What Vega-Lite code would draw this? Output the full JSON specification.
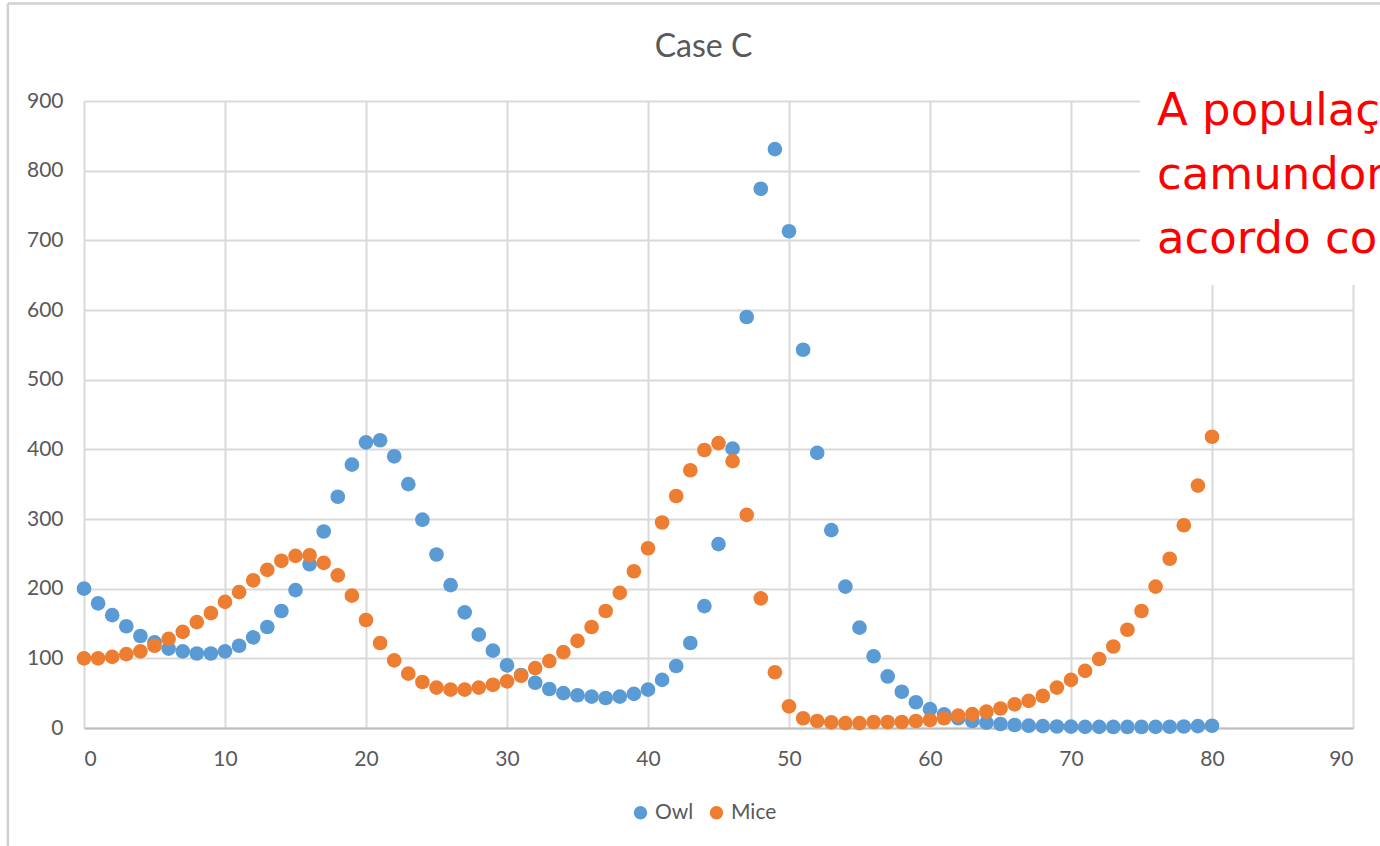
{
  "$schema": "https://vega.github.io/schema/vega-lite/v6.json",
  "width": 1269,
  "height": 627,
  "autosize": {"type": "none"},
  "padding": {"left": 84, "top": 101, "right": 27, "bottom": 118},
  "background": "white",
  "title": {"text": "Case C", "font": "Lato", "fontSize": 32, "fontWeight": "normal", "color": "#595959", "anchor": "middle", "dx": -15, "baseline": "alphabetic", "offset": -87},
  "config": {
    "view": {"stroke": null},
    "axis": {"labelFont": "Lato", "labelFontSize": 21, "labelColor": "#595959", "gridColor": "#d9d9d9", "gridWidth": 2, "ticks": false, "title": null},
    "legend": {"labelFont": "Lato", "labelFontSize": 21, "labelColor": "#595959"}
  },
  "datasets": {
    "pop": [
      {"t":0,"Owl":200,"Mice":100},{"t":1,"Owl":179,"Mice":100},{"t":2,"Owl":162,"Mice":102},{"t":3,"Owl":146,"Mice":106},{"t":4,"Owl":132,"Mice":110},
      {"t":5,"Owl":123,"Mice":118},{"t":6,"Owl":114,"Mice":128},{"t":7,"Owl":110,"Mice":138},{"t":8,"Owl":107,"Mice":152},{"t":9,"Owl":107,"Mice":165},
      {"t":10,"Owl":110,"Mice":181},{"t":11,"Owl":118,"Mice":195},{"t":12,"Owl":130,"Mice":212},{"t":13,"Owl":145,"Mice":227},{"t":14,"Owl":168,"Mice":240},
      {"t":15,"Owl":198,"Mice":247},{"t":16,"Owl":235,"Mice":248},{"t":17,"Owl":282,"Mice":237},{"t":18,"Owl":332,"Mice":219},{"t":19,"Owl":378,"Mice":190},
      {"t":20,"Owl":410,"Mice":155},{"t":21,"Owl":413,"Mice":122},{"t":22,"Owl":390,"Mice":97},{"t":23,"Owl":350,"Mice":78},{"t":24,"Owl":299,"Mice":66},
      {"t":25,"Owl":249,"Mice":58},{"t":26,"Owl":205,"Mice":55},{"t":27,"Owl":166,"Mice":55},{"t":28,"Owl":134,"Mice":58},{"t":29,"Owl":111,"Mice":62},
      {"t":30,"Owl":90,"Mice":67},{"t":31,"Owl":76,"Mice":75},{"t":32,"Owl":65,"Mice":86},{"t":33,"Owl":56,"Mice":96},{"t":34,"Owl":50,"Mice":109},
      {"t":35,"Owl":47,"Mice":125},{"t":36,"Owl":45,"Mice":145},{"t":37,"Owl":43,"Mice":168},{"t":38,"Owl":45,"Mice":194},{"t":39,"Owl":49,"Mice":225},
      {"t":40,"Owl":55,"Mice":258},{"t":41,"Owl":69,"Mice":295},{"t":42,"Owl":89,"Mice":333},{"t":43,"Owl":122,"Mice":370},{"t":44,"Owl":175,"Mice":399},
      {"t":45,"Owl":264,"Mice":409},{"t":46,"Owl":401,"Mice":383},{"t":47,"Owl":590,"Mice":306},{"t":48,"Owl":774,"Mice":186},{"t":49,"Owl":831,"Mice":80},
      {"t":50,"Owl":713,"Mice":31},{"t":51,"Owl":543,"Mice":14},{"t":52,"Owl":395,"Mice":10},{"t":53,"Owl":284,"Mice":8},{"t":54,"Owl":203,"Mice":7},
      {"t":55,"Owl":144,"Mice":7},{"t":56,"Owl":103,"Mice":8.6},{"t":57,"Owl":74,"Mice":8.6},{"t":58,"Owl":52,"Mice":8.6},{"t":59,"Owl":37,"Mice":10},
      {"t":60,"Owl":27,"Mice":11.5},{"t":61,"Owl":19.6,"Mice":14},{"t":62,"Owl":14,"Mice":17.7},{"t":63,"Owl":10,"Mice":20},{"t":64,"Owl":7.7,"Mice":23.4},
      {"t":65,"Owl":5.7,"Mice":28},{"t":66,"Owl":4.3,"Mice":34},{"t":67,"Owl":3.3,"Mice":39},{"t":68,"Owl":2.6,"Mice":46},{"t":69,"Owl":2.2,"Mice":58},
      {"t":70,"Owl":1.9,"Mice":69},{"t":71,"Owl":1.7,"Mice":82},{"t":72,"Owl":1.6,"Mice":99},{"t":73,"Owl":1.5,"Mice":117},{"t":74,"Owl":1.5,"Mice":141},
      {"t":75,"Owl":1.5,"Mice":168},{"t":76,"Owl":1.6,"Mice":203},{"t":77,"Owl":1.8,"Mice":243},{"t":78,"Owl":2.1,"Mice":291},{"t":79,"Owl":2.6,"Mice":348},
      {"t":80,"Owl":3.2,"Mice":418}
    ],
    "note": [{"note": "A população de|camundongos varia de|acordo com a das corujas"}]
  },
  "layer": [
    {
      "data": {"values": [{}]},
      "mark": {"type": "rule", "color": "#d0d0d0", "strokeWidth": 2.5, "clip": false},
      "encoding": {
        "x": {"datum": -5.4, "type": "quantitative"},
        "y": {"datum": 1040, "type": "quantitative"},
        "y2": {"datum": -175}
      }
    },
    {
      "data": {"values": [{}]},
      "mark": {"type": "rule", "color": "#d0d0d0", "strokeWidth": 2.5, "clip": false},
      "encoding": {
        "x": {"datum": -5.4, "type": "quantitative"},
        "x2": {"datum": 110},
        "y": {"datum": 1040, "type": "quantitative"}
      }
    },
    {
      "data": {"name": "pop"},
      "transform": [{"fold": ["Owl", "Mice"], "as": ["series", "value"]}],
      "mark": {"type": "point", "filled": true, "opacity": 1, "size": 215},
      "encoding": {
        "x": {"field": "t", "type": "quantitative", "scale": {"domain": [0, 90], "nice": false, "zero": false},
              "axis": {"values": [0,10,20,30,40,50,60,70,80,90], "grid": true, "domain": true, "domainColor": "#bfbfbf", "domainWidth": 2, "labelPadding": 20}},
        "y": {"field": "value", "type": "quantitative", "scale": {"domain": [0, 900], "nice": false},
              "axis": {"values": [0,100,200,300,400,500,600,700,800,900], "grid": true, "domain": false, "labelPadding": 21}},
        "color": {"field": "series", "type": "nominal",
                  "scale": {"domain": ["Owl", "Mice"], "range": ["#5B9BD5", "#ED7D31"]},
                  "legend": {"title": null, "orient": "none", "direction": "horizontal", "legendX": 546, "legendY": 701, "symbolType": "circle", "symbolSize": 180, "symbolOpacity": 1, "symbolStrokeWidth": 0, "labelOffset": 4, "columnPadding": 12}},
        "order": {"field": "series", "sort": "descending"}
      }
    },
    {
      "data": {"values": [{}]},
      "mark": {"type": "rect", "fill": "white", "stroke": null, "clip": false},
      "encoding": {
        "x": {"datum": 74.9, "type": "quantitative"},
        "x2": {"datum": 110},
        "y": {"datum": 636, "type": "quantitative"},
        "y2": {"datum": 1000}
      }
    },
    {
      "data": {"name": "note"},
      "mark": {"type": "text", "font": "DejaVu Sans", "fontSize": 45, "color": "#FF0000", "align": "left", "baseline": "alphabetic", "lineBreak": "|", "lineHeight": 64},
      "encoding": {
        "x": {"datum": 76.1, "type": "quantitative"},
        "y": {"datum": 865, "type": "quantitative"},
        "text": {"field": "note"}
      }
    }
  ]
}
